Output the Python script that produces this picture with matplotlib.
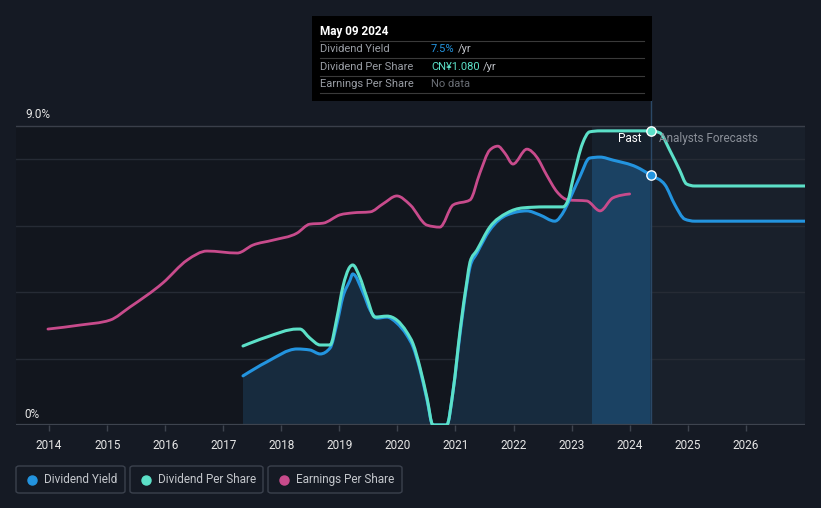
import matplotlib
matplotlib.use("Agg")
import matplotlib.pyplot as plt
from matplotlib.patches import Rectangle, FancyBboxPatch, PathPatch
from matplotlib.path import Path
from matplotlib.lines import Line2D

plt.rcParams["font.family"] = ["Roboto", "DejaVu Sans"]

# ---------------------------------------------------------------------------
# Data
# ---------------------------------------------------------------------------
yield_years = [2017.34, 2017.75, 2018.27, 2018.49, 2018.67, 2018.84, 2018.96, 2019.06,
               2019.18, 2019.23, 2019.41, 2019.53, 2019.65, 2019.82, 2019.99, 2020.16,
               2020.27, 2020.39, 2020.51, 2020.61, 2020.85, 2020.96, 2021.08, 2021.20,
               2021.25, 2021.37, 2021.59, 2021.89, 2022.23, 2022.45, 2022.71, 2022.88,
               2023.00, 2023.14, 2023.31, 2023.49, 2023.71, 2024.12, 2024.36, 2024.61,
               2024.78, 2024.95, 2025.12, 2027.02]
yield_vals = [1.48, 1.90, 2.29, 2.26, 2.14, 2.32, 3.07, 3.86,
              4.35, 4.55, 3.98, 3.46, 3.22, 3.25, 3.07, 2.71,
              2.35, 1.66, 0.75, 0.0, 0.0, 1.05, 2.77, 4.28,
              4.76, 5.18, 5.87, 6.33, 6.45, 6.33, 6.14, 6.48,
              6.93, 7.47, 8.04, 8.07, 7.98, 7.77, 7.53, 7.23,
              6.63, 6.20, 6.14, 6.14]

dps_years = [2017.34, 2017.75, 2018.27, 2018.32, 2018.49, 2018.67, 2018.84, 2018.96,
             2019.06, 2019.18, 2019.23, 2019.35, 2019.47, 2019.61, 2019.82, 2019.99,
             2020.16, 2020.27, 2020.39, 2020.51, 2020.61, 2020.85, 2020.96, 2021.08,
             2021.20, 2021.25, 2021.37, 2021.59, 2021.89, 2022.16, 2022.54, 2022.85,
             2022.94, 2023.02, 2023.19, 2023.31, 2023.49, 2024.36, 2024.52, 2024.69,
             2024.86, 2024.98, 2025.12, 2027.02]
dps_vals = [2.38, 2.65, 2.89, 2.89, 2.62, 2.41, 2.41, 3.25,
            4.16, 4.76, 4.82, 4.46, 3.86, 3.25, 3.28, 3.16,
            2.80, 2.44, 1.72, 0.81, 0.0, 0.0, 1.05, 2.86,
            4.37, 4.91, 5.27, 5.96, 6.39, 6.54, 6.57, 6.57,
            6.78, 7.38, 8.49, 8.83, 8.86, 8.86, 8.80, 8.28,
            7.68, 7.26, 7.20, 7.20]

eps_years = [2013.98, 2014.53, 2015.05, 2015.39, 2015.96, 2016.38, 2016.72, 2017.24,
             2017.51, 2017.86, 2018.27, 2018.49, 2018.72, 2019.01, 2019.23, 2019.53,
             2019.75, 2019.99, 2020.22, 2020.51, 2020.73, 2020.96, 2021.25, 2021.42,
             2021.59, 2021.73, 2021.85, 2021.99, 2022.23, 2022.40, 2022.57, 2022.75,
             2022.94, 2023.26, 2023.49, 2023.71, 2024.00]
eps_vals = [2.89, 3.01, 3.16, 3.55, 4.28, 4.97, 5.24, 5.18,
            5.42, 5.57, 5.78, 6.05, 6.08, 6.33, 6.39, 6.42,
            6.66, 6.90, 6.63, 6.02, 5.96, 6.63, 6.78, 7.59,
            8.28, 8.40, 8.19, 7.86, 8.31, 8.07, 7.53, 7.02,
            6.78, 6.75, 6.45, 6.84, 6.96]

tick_years = list(range(2014, 2027))
grid_levels = [2, 4, 6, 8]
today = 2024.36
last_year = 2023.35
today_yield = 7.53
today_dps = 8.86

# ---------------------------------------------------------------------------
# Colours
# ---------------------------------------------------------------------------
BG = "#151a24"
PAST_BG = "#12161e"
FUT_BG = "#19202b"
BAND_BG = "#16202c"
BLUE = "#2394df"
TEAL = "#5ce0c8"
PINK = "#c84b8c"
GRID = "#262b35"

W, H = 821, 508


def fx(x):
    return x / W


def fy(y):
    return 1 - y / H


def _sign(v):
    return (v > 0) - (v < 0)


def smooth_path(xs, ys, close_to=None):
    """Monotone-x cubic Bezier path through the points (like d3 curveMonotoneX)."""
    n = len(xs)
    d = [(ys[i + 1] - ys[i]) / (xs[i + 1] - xs[i]) for i in range(n - 1)]
    m = [0.0] * n
    for i in range(1, n - 1):
        h0 = xs[i] - xs[i - 1]
        h1 = xs[i + 1] - xs[i]
        s0, s1 = d[i - 1], d[i]
        p = (s0 * h1 + s1 * h0) / (h0 + h1)
        m[i] = (_sign(s0) + _sign(s1)) * min(abs(s0), abs(s1), 0.5 * abs(p))
    m[0] = (3 * d[0] - m[1]) / 2 if n > 2 else d[0]
    m[-1] = (3 * d[-1] - m[-2]) / 2 if n > 2 else d[-1]
    verts = [(xs[0], ys[0])]
    codes = [Path.MOVETO]
    for i in range(n - 1):
        h = (xs[i + 1] - xs[i]) / 3
        verts += [(xs[i] + h, ys[i] + h * m[i]),
                  (xs[i + 1] - h, ys[i + 1] - h * m[i + 1]),
                  (xs[i + 1], ys[i + 1])]
        codes += [Path.CURVE4] * 3
    if close_to is not None:
        verts += [(xs[-1], close_to), (xs[0], close_to), (xs[0], ys[0])]
        codes += [Path.LINETO, Path.LINETO, Path.CLOSEPOLY]
    return Path(verts, codes)


fig = plt.figure(figsize=(W / 100, H / 100), dpi=100, facecolor=BG)

# plot area: x 16..805 px, y 100..425 px
ax = fig.add_axes([fx(16), fy(425), (805 - 16) / W, (425 - 100) / H])
ax.set_facecolor(BG)
ax.set_xlim(2013.43, 2027.02)
ax.set_ylim(0, 9.79)
for s in ax.spines.values():
    s.set_visible(False)

ax.add_patch(Rectangle((2013.43, 0), today - 2013.43, 9.0, color=PAST_BG, lw=0, zorder=0))
ax.add_patch(Rectangle((today, 0), 2027.02 - today, 9.0, color=FUT_BG, lw=0, zorder=0))
ax.add_patch(Rectangle((last_year, 0), today - last_year, 9.0, color=BAND_BG, lw=0, zorder=0))

for g in grid_levels:
    ax.axhline(g, color=GRID, lw=1.0, zorder=1)
ax.axhline(9.0, color="#3a3f4a", lw=1.0, zorder=1)
ax.axhline(0, color="#3e444f", lw=1.6, zorder=5)

# shaded area under the past dividend yield
n_past = sum(1 for x in yield_years if x <= today)
past_path = smooth_path(yield_years[:n_past], yield_vals[:n_past], close_to=0)
ax.add_patch(PathPatch(past_path, facecolor="#172b3e", edgecolor="none", zorder=2))
hl = PathPatch(past_path, facecolor="#1b4263", edgecolor="none", zorder=2)
ax.add_patch(hl)
clip = Rectangle((last_year, 0), today - last_year, 10, transform=ax.transData)
hl.set_clip_path(clip)

ax.axvline(today, ymin=0, ymax=1, color="#2b4866", lw=1.0, zorder=3)

for xs, ys, col, lw, z in [(eps_years, eps_vals, PINK, 2.0, 6),
                           (yield_years, yield_vals, BLUE, 2.2, 7),
                           (dps_years, dps_vals, TEAL, 2.2, 8)]:
    ax.add_patch(PathPatch(smooth_path(xs, ys), facecolor="none", edgecolor=col, lw=lw,
                           capstyle="round", joinstyle="round", zorder=z))

ax.scatter([today], [today_dps], s=45, color=TEAL, edgecolor="white", lw=1.0, zorder=10)
ax.scatter([today], [today_yield], s=45, color=BLUE, edgecolor="white", lw=1.0, zorder=10)

ax.text(today - 0.15, 8.62, "Past", color="white", fontsize=8.5, ha="right", va="center", zorder=11)
ax.text(today + 0.15, 8.62, "Analysts Forecasts", color="#8a8f98", fontsize=8.5,
        ha="left", va="center", zorder=11)

ax.set_yticks([])
ax.set_xticks(tick_years)
ax.set_xticklabels([str(y) for y in tick_years])
ax.tick_params(axis="x", colors="#3e444f", length=4, width=1, labelcolor="#e6e6e6",
               labelsize=8.5, pad=6)

fig.text(fx(25), fy(114), "9.0%", color="#e6e6e6", fontsize=8.5, ha="left", va="center")
fig.text(fx(24), fy(414), "0%", color="#e6e6e6", fontsize=8.5, ha="left", va="center")

# tooltip
fig.patches.append(Rectangle((fx(312), fy(101)), (652 - 312) / W, (101 - 16) / H,
                             transform=fig.transFigure, facecolor="black", edgecolor="none",
                             zorder=20))
fig.text(fx(320), fy(31), "May 09 2024", color="white", fontsize=8.5, fontweight="bold",
         ha="left", va="center", zorder=21)
rows = [("Dividend Yield", "7.5%", BLUE), ("Dividend Per Share", "CN¥1.080", TEAL),
        ("Earnings Per Share", "No data", "#6a6e75")]
for i, (lab, val, col) in enumerate(rows):
    yy = 49 + i * 17.5
    fig.text(fx(320), fy(yy), lab, color="#9a9ea5", fontsize=8, ha="left", va="center", zorder=21)
    t = fig.text(fx(431), fy(yy), val, color=col, fontsize=8, ha="left", va="center", zorder=21)
    if val != "No data":
        fig.canvas.draw()
        bb = t.get_window_extent()
        fig.text(bb.x1 / W + 3 / W, fy(yy), "/yr", color="#bfc2c7", fontsize=8,
                 ha="left", va="center", zorder=21)
for yy in [41, 58, 75.5, 93]:
    fig.add_artist(Line2D([fx(320), fx(644)], [fy(yy), fy(yy)], color="#3a3a3a", lw=0.8,
                          transform=fig.transFigure, zorder=21))

# legend boxes
legend = [("Dividend Yield", BLUE, 16, 125), ("Dividend Per Share", TEAL, 130, 263),
          ("Earnings Per Share", PINK, 268, 402)]
for lab, col, x0, x1 in legend:
    fig.patches.append(FancyBboxPatch((fx(x0), fy(493)), (x1 - x0) / W, (493 - 466) / H,
                                      boxstyle="round,pad=0,rounding_size=0.004",
                                      transform=fig.transFigure, facecolor="none",
                                      edgecolor="#3b414d", lw=1.0))
    fig.add_artist(Line2D([fx(x0 + 16)], [fy(479.5)], marker="o", markersize=6.5,
                          color=col, lw=0, transform=fig.transFigure))
    fig.text(fx(x0 + 28), fy(479.5), lab, color="#c4c7cc", fontsize=8.5, ha="left", va="center")

fig.savefig("out.png", dpi=100, facecolor=BG)
